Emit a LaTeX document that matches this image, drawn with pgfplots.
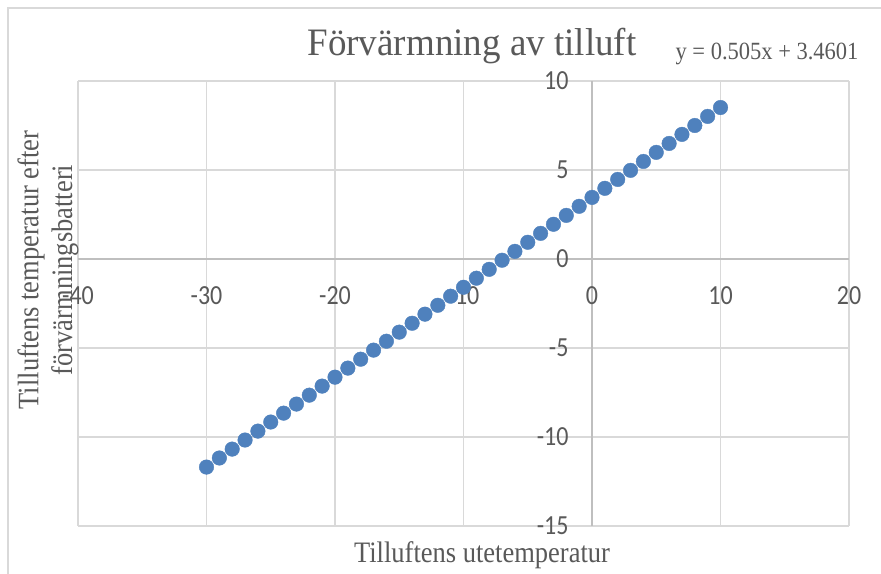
\documentclass[border=0pt]{standalone}
\usepackage{fontspec}
\setmainfont{Liberation Serif}
\newfontfamily\calibri{Carlito}
\usepackage{pgfplots}
\pgfplotsset{compat=1.18}
\definecolor{gridc}{HTML}{D9D9D9}
\definecolor{axc}{HTML}{BFBFBF}
\definecolor{txt}{HTML}{595959}
\definecolor{mk}{HTML}{4F81BD}
\begin{document}
\begin{tikzpicture}[x=1bp,y=1bp]
\path[use as bounding box] (0,0) rectangle (881,574);
\draw[gridc, line width=1.2bp] (8,0) -- (8,566) -- (881,566);
\begin{axis}[at={(78bp,48bp)}, anchor=south west, scale only axis, width=771bp, height=445bp,
 xmin=-40,xmax=20,ymin=-15,ymax=10, xtick={-40,-30,...,20}, ytick={-15,-10,...,10},
 axis lines=middle, axis line style={-, draw=axc, line width=1.2bp},
 grid=major, major grid style={draw=gridc, line width=1.2bp},
 major tick length=0pt,
 hide obscured x ticks=false, hide obscured y ticks=false,
 /pgf/number format/assume math mode=true,
 tick label style={font=\calibri\fontsize{24bp}{28bp}\selectfont, text=txt, yscale=1.15},
 xticklabel style={anchor=center, yshift=-32bp},
 yticklabel style={anchor=east, xshift=-20bp},
 clip=false]
\addplot[only marks, mark=*, mark size=7.3bp, mark options={fill=mk, draw=mk}] coordinates {
(-30,-11.69) (-29,-11.18) (-28,-10.68) (-27,-10.17) (-26,-9.67) (-25,-9.16)
(-24,-8.66) (-23,-8.15) (-22,-7.65) (-21,-7.14) (-20,-6.64) (-19,-6.13)
(-18,-5.63) (-17,-5.12) (-16,-4.62) (-15,-4.11) (-14,-3.61) (-13,-3.10)
(-12,-2.60) (-11,-2.09) (-10,-1.59) (-9,-1.08) (-8,-0.58) (-7,-0.07)
(-6,0.43) (-5,0.94) (-4,1.44) (-3,1.95) (-2,2.45) (-1,2.96) (0,3.46)
(1,3.97) (2,4.47) (3,4.98) (4,5.48) (5,5.99) (6,6.49) (7,7.00)
(8,7.50) (9,8.01) (10,8.51)};
\end{axis}
\node[text=txt, yscale=1.05, font=\fontsize{37bp}{40bp}\selectfont] at (472,528) {Förvärmning av tilluft};
\node[text=txt, yscale=1.1, font=\fontsize{22.5bp}{26bp}\selectfont] at (767,520) {y = 0.505x + 3.4601};
\node[text=txt, yscale=1.12, font=\fontsize{26.5bp}{30bp}\selectfont] at (482,19) {Tilluftens utetemperatur};
\node[text=txt, rotate=90, yscale=1.12, align=center, font=\fontsize{26.5bp}{30bp}\selectfont] at (48,304) {Tilluftens temperatur efter\\förvärmningsbatteri};
\end{tikzpicture}
\end{document}
